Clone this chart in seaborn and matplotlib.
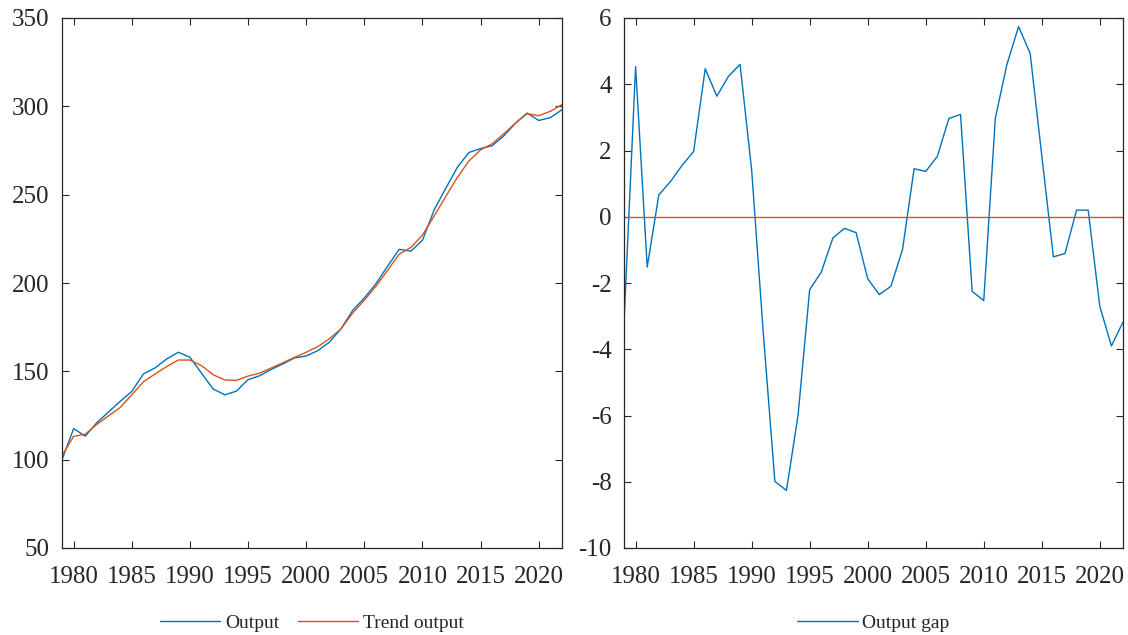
import numpy as np
import pandas as pd
import matplotlib
matplotlib.use("Agg")
import matplotlib.pyplot as plt
import seaborn as sns

years = list(range(1979, 2023))

output = [100.0, 117.6, 113.3, 121.0, 127.0, 133.0, 138.6, 148.5, 151.9, 157.0,
          160.8, 158.0, 148.9, 140.0, 136.7, 138.8, 145.3, 147.5, 151.1, 154.2,
          157.6, 158.7, 161.7, 166.5, 174.1, 184.5, 191.5, 199.6, 209.5, 219.1,
          218.0, 224.2, 241.3, 253.6, 265.5, 273.9, 276.1, 277.7, 283.3, 290.5,
          296.2, 292.0, 293.6, 298.1]

trend = [102.3, 113.2, 114.4, 120.0, 124.8, 129.5, 136.7, 144.1, 148.5, 152.7,
         156.4, 156.4, 153.2, 148.1, 145.1, 144.9, 147.3, 149.0, 151.9, 154.9,
         157.9, 160.8, 164.0, 168.4, 174.1, 183.0, 190.2, 198.1, 207.2, 216.3,
         220.1, 227.1, 237.9, 248.9, 259.8, 269.1, 275.4, 278.8, 284.5, 290.5,
         295.8, 294.7, 297.2, 301.0]

gap = [-3.2, 4.53, -1.52, 0.66, 1.06, 1.55, 1.97, 4.47, 3.64, 4.24,
       4.60, 1.41, -3.5, -7.99, -8.26, -5.99, -2.2, -1.67, -0.64, -0.35,
       -0.48, -1.87, -2.35, -2.1, -0.99, 1.45, 1.37, 1.82, 2.97, 3.09,
       -2.25, -2.53, 2.98, 4.60, 5.74, 4.93, 1.85, -1.21, -1.11, 0.20,
       0.20, -2.70, -3.90, -3.18]

gap_zero = [0.0] * len(years)

left_yticks = [50, 100, 150, 200, 250, 300, 350]
right_yticks = [-10, -8, -6, -4, -2, 0, 2, 4, 6]
xticks = [1980, 1985, 1990, 1995, 2000, 2005, 2010, 2015, 2020]

BLUE = "#0072BD"
ORANGE = "#D95319"
DARK = "#262626"

sns.set_style("ticks")
plt.rcParams["font.family"] = ["Liberation Serif", "DejaVu Serif"]

fig = plt.figure(figsize=(11.28, 6.35), dpi=100)
W, H = 1128, 635
ax1 = fig.add_axes([62 / W, 1 - 548 / H, 500 / W, 530 / H])
ax2 = fig.add_axes([624 / W, 1 - 548 / H, 499 / W, 530 / H])

df = pd.DataFrame({"year": years, "Output": output, "Trend output": trend,
                   "Output gap": gap, "zero": gap_zero})

sns.lineplot(data=df, x="year", y="Output", ax=ax1, color=BLUE, lw=1.0, label="Output")
sns.lineplot(data=df, x="year", y="Trend output", ax=ax1, color=ORANGE, lw=1.0, label="Trend output")
sns.lineplot(data=df, x="year", y="Output gap", ax=ax2, color=BLUE, lw=1.0, label="Output gap")
sns.lineplot(data=df, x="year", y="zero", ax=ax2, color=ORANGE, lw=1.0, label="_nolegend_")

for ax, yt in ((ax1, left_yticks), (ax2, right_yticks)):
    ax.set_xlim(1979, 2022)
    ax.set_ylim(yt[0], yt[-1])
    ax.set_yticks(yt)
    ax.set_yticklabels([str(v) for v in yt])
    ax.set_xticks(xticks)
    ax.set_xticklabels([str(v) for v in xticks])
    ax.set_xlabel("")
    ax.set_ylabel("")
    for s in ax.spines.values():
        s.set_visible(True)
        s.set_color(DARK)
        s.set_linewidth(0.9)
    ax.tick_params(axis="both", direction="in", length=5, width=0.8,
                   top=True, right=True, labelsize=18, colors=DARK, pad=13)
    ax.tick_params(axis="y", pad=9)
    leg = ax.legend(loc="center", bbox_to_anchor=(0.5, -0.142), ncol=2,
                    frameon=False, fontsize=14, handlelength=3.1,
                    handletextpad=0.25, columnspacing=0.95)
    for t in leg.get_texts():
        t.set_color(DARK)

fig.savefig("out.png", dpi=100, facecolor="white")
